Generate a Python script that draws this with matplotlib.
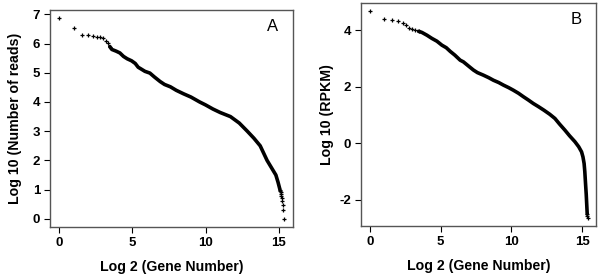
import matplotlib
matplotlib.use("Agg")
import matplotlib.pyplot as plt

plt.rcParams['font.family'] = ['Liberation Sans', 'DejaVu Sans']
plt.rcParams['axes.unicode_minus'] = False

# ---- panel A: Log10 (Number of reads) vs Log2 (Gene Number) ----
# top-ranked genes, visible as single crosses
a_top_x = [0, 1.0, 1.58, 2.0, 2.32, 2.58, 2.81, 3.0, 3.17, 3.32, 3.46]
a_top_y = [6.88, 6.52, 6.31, 6.30, 6.25, 6.22, 6.21, 6.19, 6.10, 6.03, 5.90]
# dense part of the curve
a_mid_x = [3.46, 3.6, 3.9, 4.15, 4.4, 4.65, 4.95, 5.2, 5.4, 5.6, 5.86, 6.2, 6.5, 6.9,
           7.2, 7.6, 8.0, 8.5, 9.0, 9.6, 10.0, 10.5, 11.0, 11.7, 12.3, 12.85, 13.3,
           13.73, 14.2, 14.5, 14.8, 14.95, 15.08]
a_mid_y = [5.90, 5.80, 5.74, 5.68, 5.56, 5.48, 5.41, 5.32, 5.19, 5.13, 5.05, 4.99, 4.86, 4.70,
           4.60, 4.52, 4.40, 4.28, 4.17, 4.00, 3.90, 3.76, 3.64, 3.50, 3.28, 3.00, 2.76,
           2.50, 2.00, 1.75, 1.50, 1.25, 1.0]
# low-count tail (1..10 reads)
a_tail_x = [15.08, 15.11, 15.13, 15.15, 15.17, 15.2, 15.23, 15.26, 15.29, 15.34]
a_tail_y = [1.0, 0.954, 0.903, 0.845, 0.778, 0.699, 0.602, 0.477, 0.301, 0.0]

# ---- panel B: Log10 (RPKM) vs Log2 (Gene Number) ----
b_top_x = [0, 0.98, 1.57, 1.99, 2.32, 2.58, 2.79, 2.98, 3.21, 3.44]
b_top_y = [4.67, 4.41, 4.35, 4.33, 4.27, 4.18, 4.09, 4.05, 4.00, 3.96]
b_mid_x = [3.44, 3.68, 4.04, 4.38, 4.74, 5.09, 5.4, 5.68, 6.0, 6.38, 6.61, 7.0, 7.32, 7.6,
           8.02, 8.4, 8.73, 9.1, 9.43, 9.8, 10.13, 10.5, 10.84, 11.2, 11.54, 11.9, 12.3,
           12.7, 13.07, 13.4, 13.77, 14.1, 14.48, 14.75, 14.95, 15.05, 15.13, 15.18,
           15.23, 15.28, 15.32, 15.35]
b_mid_y = [3.96, 3.92, 3.82, 3.71, 3.61, 3.47, 3.38, 3.25, 3.12, 2.94, 2.88, 2.72, 2.59, 2.50,
           2.41, 2.32, 2.23, 2.15, 2.06, 1.97, 1.88, 1.77, 1.65, 1.53, 1.41, 1.30, 1.17,
           1.03, 0.88, 0.68, 0.47, 0.27, 0.06, -0.12, -0.30, -0.48, -0.71, -1.0,
           -1.41, -1.8, -2.2, -2.5]
b_tail_x = [15.35, 15.36, 15.37]
b_tail_y = [-2.5, -2.58, -2.65]

W, H = 600, 274
fig = plt.figure(figsize=(W / 100, H / 100), dpi=100)


def px_axes(left, right, top, bottom):
    return fig.add_axes([left / W, (H - bottom) / H, (right - left) / W, (bottom - top) / H])


def draw_panel(ax, top, mid, tail, xlim, ylim, yticks, ylabel, tag, ylabelpad):
    ax.plot(mid[0], mid[1], '-', color='black', lw=2.6, solid_capstyle='round')
    ax.plot(top[0], top[1], '+', color='black', ms=3.5, mew=0.9)
    ax.plot(tail[0], tail[1], '+', color='black', ms=3.5, mew=0.9)
    ax.set_xlim(*xlim)
    ax.set_ylim(*ylim)
    ax.set_xticks([0, 5, 10, 15])
    ax.set_yticks(yticks)
    ax.tick_params(direction='out', length=4, width=0.8, labelsize=9.5, pad=3)
    for lab in ax.get_xticklabels() + ax.get_yticklabels():
        lab.set_fontweight('bold')
    for s in ax.spines.values():
        s.set_color('#555555')
        s.set_linewidth(1)
    ax.set_xlabel('Log 2 (Gene Number)', fontsize=10.2, fontweight='bold', labelpad=8)
    ax.set_ylabel(ylabel, fontsize=10.2, fontweight='bold', labelpad=ylabelpad)
    ax.text(0.915, 0.925, tag, transform=ax.transAxes, fontsize=12, ha='center', va='center')


ax_a = px_axes(50, 293, 10, 227)
draw_panel(ax_a, (a_top_x, a_top_y), (a_mid_x, a_mid_y), (a_tail_x, a_tail_y),
           (-0.62, 15.97), (-0.28, 7.15), range(0, 8), 'Log 10 (Number of reads)', 'A', 8)

ax_b = px_axes(361, 596, 3, 226)
draw_panel(ax_b, (b_top_x, b_top_y), (b_mid_x, b_mid_y), (b_tail_x, b_tail_y),
           (-0.62, 15.97), (-2.92, 4.96), [-2, 0, 2, 4], 'Log 10 (RPKM)', 'B', 4)

fig.savefig('out.png', dpi=100)
